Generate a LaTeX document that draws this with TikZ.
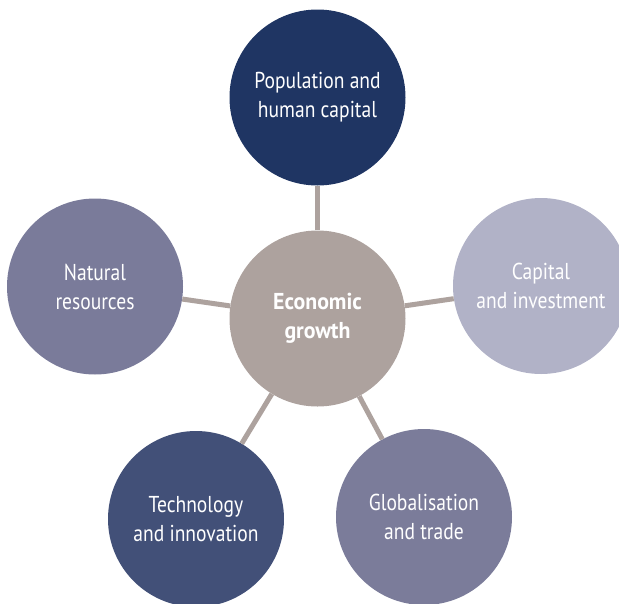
\documentclass[tikz,border=0pt]{standalone}
\usepackage{fontspec}
\setmainfont[FakeStretch=0.85, BoldFeatures={FakeStretch=0.95}]{PT Sans}
\definecolor{popcol}{HTML}{1F3563}
\definecolor{capcol}{HTML}{B1B2C7}
\definecolor{natcol}{HTML}{7A7B9A}
\definecolor{techcol}{HTML}{425078}
\definecolor{globcol}{HTML}{7B7C9A}
\definecolor{growcol}{HTML}{ADA29E}
\begin{document}
\begin{tikzpicture}[x=1pt, y=1pt]

      \tikzset{factor/.style={circle, inner sep=0pt, minimum size=176pt, text=white, align=center,
                             font=\fontsize{23}{29}\selectfont}}
      \useasboundingbox (0,0) rectangle (619,-603);
%% Circles
      	\node[factor, fill=growcol, font=\fontsize{23}{29}\selectfont\bfseries] (eg) at (317.5,-318.5) {Economic\\growth};
      	\node[factor, fill=popcol] (pop) at (317.5,-97.5) {Population and\\human capital};
    	\node[factor, fill=capcol] (cap) at (541,-286) {Capital\\and investment};
  	    \node[factor, fill=natcol] (nat) at (95,-286.5) {Natural\\resources};
     	\node[factor, fill=techcol] (tech) at (196,-519) {Technology\\and innovation};
     	\node[factor, fill=globcol] (glob) at (424,-517) {Globalisation\\and trade};
%Links
		\path [-, line width=5pt, draw=growcol] (eg) edge (pop);
		\path [-, line width=5pt, draw=growcol] (eg) edge (cap);
		\path [-, line width=5pt, draw=growcol] (eg) edge (nat);
		\path [-, line width=5pt, draw=growcol] (eg) edge (tech);
		\path [-, line width=5pt, draw=growcol] (eg) edge (glob);

	\end{tikzpicture}
\end{document}
